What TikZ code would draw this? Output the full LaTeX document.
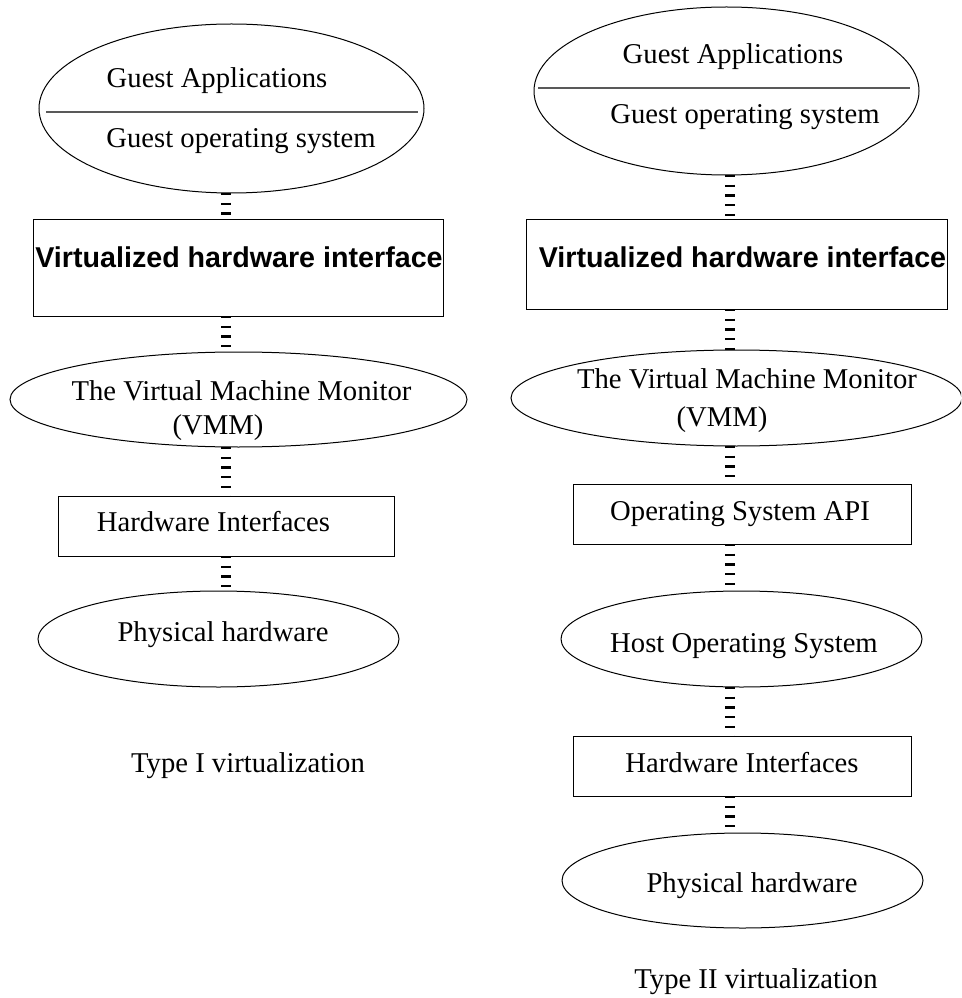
\documentclass[tikz,border=0pt]{standalone}
\usepackage{fontspec}
\setmainfont{Liberation Serif}
\newfontfamily\boldsans[BoldFont={Liberation Sans Bold}]{Liberation Sans}
\usetikzlibrary{shapes.geometric}
\newdimen\pxu
\pxu=0.75pt
\tikzset{
  shapeline/.style={draw=black, line width=0.75pt, inner sep=0pt, outer sep=0pt},
  ovalbox/.style={shapeline, ellipse},
  rectbox/.style={shapeline, rectangle},
  divider/.style={draw=black!65, line width=1.1pt},
  conn/.style={draw=black, line width=7.4pt, dash pattern=on 1.6pt off 5.7pt},
  lbl/.style={anchor=base, inner sep=0pt, font=\fontsize{21.5pt}{25pt}\selectfont},
  blbl/.style={anchor=base, inner sep=0pt, font=\boldsans\bfseries\fontsize{21.5pt}{25pt}\selectfont},
}
\begin{document}
\begin{tikzpicture}[x=0.75pt, y=-0.75pt]
\useasboundingbox (0,0) rectangle (961,998);
\clip (0,0) rectangle (961,998);

% ---------------- Type I ----------------
\coordinate (xL) at (226,0);
\node[ovalbox, minimum width=385\pxu, minimum height=169\pxu] (LE1) at (231.5,108.5) {};
\coordinate (LD1) at (46,112);
\coordinate (LD2) at (418,112);
\draw[divider] (LD1) -- (LD2);
\node[lbl] (LtGA) at (217,88) {Guest Applications};
\node[lbl] (LtGO) at (241,148) {Guest operating system};

\node[rectbox, minimum width=410\pxu, minimum height=96\pxu] (LRV) at (238,268) {};
\node[blbl] (LtV) at (239,268) {Virtualized hardware interface};

\node[ovalbox, minimum width=457\pxu, minimum height=95\pxu] (LVMM) at (238.5,399.5) {};
\node[lbl] (LtVMM1) at (241.5,400) {The Virtual Machine Monitor};
\node[lbl] (LtVMM2) at (218,434) {(VMM)};

\node[rectbox, minimum width=336\pxu, minimum height=60\pxu] (LHW) at (226,526) {};
\node[lbl] (LtHW) at (213.5,531.5) {Hardware Interfaces};

\node[ovalbox, minimum width=361\pxu, minimum height=96\pxu] (LPH) at (218.5,639) {};
\node[lbl] (LtPH) at (223,641) {Physical hardware};

\node[lbl] (LtT1) at (248,772) {Type I virtualization};

\draw[conn] (LE1.south -| xL) -- (LRV.north -| xL);
\draw[conn] (LRV.south -| xL) -- (LVMM.north -| xL);
\draw[conn] (LVMM.south -| xL) -- (LHW.north -| xL);
\draw[conn] (LHW.south -| xL) -- (LPH.north -| xL);

% ---------------- Type II ----------------
\coordinate (xR) at (730,0);
\node[ovalbox, minimum width=385\pxu, minimum height=168\pxu] (RE1) at (726.5,91) {};
\coordinate (RD1) at (538,88);
\coordinate (RD2) at (910,88);
\draw[divider] (RD1) -- (RD2);
\node[lbl] (RtGA) at (733,64) {Guest Applications};
\node[lbl] (RtGO) at (745,124) {Guest operating system};

\node[rectbox, minimum width=421\pxu, minimum height=89\pxu] (RRV) at (736.5,264.5) {};
\node[blbl] (RtV) at (742.5,268) {Virtualized hardware interface};

\node[ovalbox, minimum width=451\pxu, minimum height=96\pxu] (RVMM) at (736.5,398) {};
\node[lbl] (RtVMM1) at (747,388) {The Virtual Machine Monitor};
\node[lbl] (RtVMM2) at (722,426) {(VMM)};

\node[rectbox, minimum width=338\pxu, minimum height=60\pxu] (ROS) at (742,514) {};
\node[lbl] (RtOS) at (740,520) {Operating System API};

\node[ovalbox, minimum width=361\pxu, minimum height=96\pxu] (RHO) at (741.5,639) {};
\node[lbl] (RtHO) at (744,652) {Host Operating System};

\node[rectbox, minimum width=338\pxu, minimum height=60\pxu] (RHW) at (742,766) {};
\node[lbl] (RtHW) at (742,772) {Hardware Interfaces};

\node[ovalbox, minimum width=361\pxu, minimum height=95\pxu] (RPH) at (742.5,880.5) {};
\node[lbl] (RtPH) at (752,892) {Physical hardware};

\node[lbl] (RtT2) at (756,988) {Type II virtualization};

\draw[conn] (RE1.south -| xR) -- (RRV.north -| xR);
\draw[conn] (RRV.south -| xR) -- (RVMM.north -| xR);
\draw[conn] (RVMM.south -| xR) -- (ROS.north -| xR);
\draw[conn] (ROS.south -| xR) -- (RHO.north -| xR);
\draw[conn] (RHO.south -| xR) -- (RHW.north -| xR);
\draw[conn] (RHW.south -| xR) -- (RPH.north -| xR);
\end{tikzpicture}
\end{document}
